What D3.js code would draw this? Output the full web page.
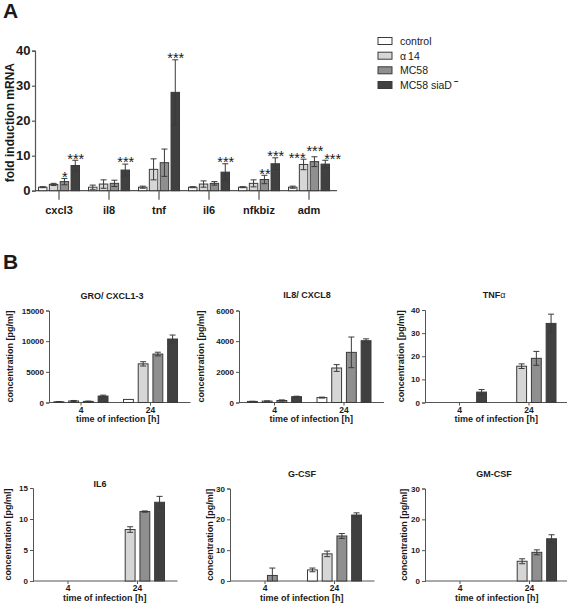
<!DOCTYPE html>
<html><head><meta charset="utf-8">
<script src="https://cdn.jsdelivr.net/npm/d3@7/dist/d3.min.js"></script>
<style>
body{margin:0;background:#fff}
svg{display:block}
text{font-family:"Liberation Sans",Arial,Helvetica,sans-serif;fill:#1a1a1a}
</style>
</head><body>
<svg id="c" width="567" height="604"></svg>
<script>
// ---------- shared ----------
const seriesNames = ["control", "α14", "MC58", "MC58 siaD"];
const seriesColors = ["#ffffff", "#d6d6d6", "#8f8f8f", "#404040"];

// ---------- panel A data ----------
const genes = ["cxcl3", "il8", "tnf", "il6", "nfkbiz", "adm"];
const geneControl = [1.0, 1.0, 1.0, 1.0, 1.0, 1.0];
const geneControlErr = [0.15, 0.6, 0.3, 0.15, 0.15, 0.3];
const geneA14 = [1.8, 1.9, 6.1, 1.9, 2.1, 7.5];
const geneA14Err = [0.3, 1.2, 3.0, 0.9, 1.0, 1.5];
const geneMC58 = [2.6, 2.1, 8.0, 2.1, 3.2, 8.3];
const geneMC58Err = [0.9, 0.9, 3.9, 0.5, 1.2, 1.4];
const geneSiaD = [7.2, 5.9, 28.1, 5.3, 7.7, 7.6];
const geneSiaDErr = [1.5, 1.7, 9.3, 2.4, 1.7, 1.1];
const geneStars = [
  ["", "", "*", "***"], ["", "", "", "***"], ["", "", "", "***"],
  ["", "", "", "***"], ["", "", "**", "***"], ["", "***", "***", "***"]
];
const foldTicks = [0, 10, 20, 30, 40];

// ---------- panel B data ----------
const cytokines = ["GRO/ CXCL1-3", "IL8/ CXCL8", "TNFα", "IL6", "G-CSF", "GM-CSF"];
const times = ["4", "24"];
const cytoTicks = [
  [0, 5000, 10000, 15000], [0, 2000, 4000, 6000], [0, 10, 20, 30, 40],
  [0, 5, 10, 15], [0, 10, 20, 30], [0, 10, 20, 30]
];
const groMean = [[120, 250, 180, 1050], [500, 6300, 7900, 10350]];
const groErr = [[40, 80, 50, 150], [0, 350, 300, 650]];
const il8Mean = [[70, 90, 130, 380], [320, 2250, 3270, 4030]];
const il8Err = [[10, 10, 40, 30], [30, 220, 1000, 120]];
const tnfMean = [[0, 0, 0, 4.5], [0, 15.7, 19.1, 34.2]];
const tnfErr = [[0, 0, 0, 1.1], [0, 1.0, 3.0, 4.0]];
const il6Mean = [[0, 0, 0, 0], [0, 8.3, 11.2, 12.7]];
const il6Err = [[0, 0, 0, 0], [0, 0.45, 0.1, 0.95]];
const gcsfMean = [[0, 0, 1.8, 0], [3.6, 8.8, 14.6, 21.4]];
const gcsfErr = [[0, 0, 2.4, 0], [0.6, 0.9, 0.8, 0.7]];
const gmcsfMean = [[0, 0, 0, 0], [0, 6.4, 9.3, 13.7]];
const gmcsfErr = [[0, 0, 0, 0], [0, 0.8, 0.8, 1.3]];
const cytoMeans = [groMean, il8Mean, tnfMean, il6Mean, gcsfMean, gmcsfMean];
const cytoErrs = [groErr, il8Err, tnfErr, il6Err, gcsfErr, gmcsfErr];

// ---------- drawing ----------
const svg = d3.select("#c");
const AXIS = "#555";
const BAR_STROKE = "#3a3a3a";
const ERR = "#3a3a3a";
const FONT = '"Liberation Sans",Arial,sans-serif';
const STAR_FS = 14.5;

svg.append("text").attr("x", 3).attr("y", 18).attr("font-size", 21).attr("font-weight", "bold").text("A");
svg.append("text").attr("x", 3).attr("y", 269).attr("font-size", 21).attr("font-weight", "bold").text("B");

// ---- Panel A ----
(function () {
  const x0 = 35, x1 = 337, yBase = 190.7, yTopPx = 50.7;
  const y = d3.scaleLinear().domain([0, 40]).range([yBase, yTopPx]);
  const xg = d3.scaleBand().domain(genes).range([34, 334]);
  const xs = d3.scaleBand().domain(d3.range(4)).range([-20.5, 20.5]).paddingInner(0.22);
  const means = [geneControl, geneA14, geneMC58, geneSiaD];
  const errs = [geneControlErr, geneA14Err, geneMC58Err, geneSiaDErr];
  const g = svg.append("g");

  const yAxis = d3.axisLeft(y).tickValues(foldTicks).tickSize(3).tickPadding(1.5);
  const ya = g.append("g").attr("transform", `translate(${x0},0)`).call(yAxis);
  ya.select(".domain").attr("stroke", AXIS).attr("stroke-width", 1.2);
  ya.selectAll(".tick line").attr("stroke", AXIS).attr("stroke-width", 1.2);
  ya.selectAll(".tick text").attr("font-size", 13).attr("font-weight", "bold").attr("fill", "#1a1a1a")
    .style("font-family", FONT);

  const xa = g.append("g").attr("transform", `translate(0,${yBase})`);
  xa.append("line").attr("x1", x0).attr("x2", x1).attr("stroke", AXIS).attr("stroke-width", 1.2);
  const xAxis = d3.axisBottom(xg).tickSize(9).tickPadding(7);
  const xaa = xa.append("g").call(xAxis);
  xaa.select(".domain").remove();
  xaa.selectAll(".tick line").attr("stroke", AXIS).attr("stroke-width", 1.2);
  xaa.selectAll(".tick text").attr("font-size", 11).attr("font-weight", "bold").attr("fill", "#1a1a1a")
    .style("font-family", FONT);

  g.append("text").attr("transform", `translate(14,${(yBase + yTopPx) / 2 + 2}) rotate(-90)`)
    .attr("text-anchor", "middle").attr("font-size", 12).attr("font-weight", "bold").text("fold induction mRNA");

  genes.forEach((gene, gi) => {
    const cx = xg(gene) + xg.bandwidth() / 2;
    let prevStarY = null;
    const labels = [];
    for (let s = 0; s < 4; s++) {
      const v = means[s][gi], e = errs[s][gi];
      const bx = cx + xs(s), bw = xs.bandwidth();
      g.append("rect").attr("x", bx).attr("y", y(v)).attr("width", bw).attr("height", y(0) - y(v))
        .attr("fill", seriesColors[s]).attr("stroke", BAR_STROKE).attr("stroke-width", 1);
      const mx = bx + bw / 2, cw = 3;
      g.append("line").attr("x1", mx).attr("x2", mx).attr("y1", y(v - e)).attr("y2", y(v + e)).attr("stroke", ERR).attr("stroke-width", 1);
      g.append("line").attr("x1", mx - cw).attr("x2", mx + cw).attr("y1", y(v + e)).attr("y2", y(v + e)).attr("stroke", ERR).attr("stroke-width", 1);
      g.append("line").attr("x1", mx - cw).attr("x2", mx + cw).attr("y1", y(v - e)).attr("y2", y(v - e)).attr("stroke", ERR).attr("stroke-width", 1);
      const st = geneStars[gi][s];
      if (st) {
        let cyStar = y(v + e) - 5.3;
        if (prevStarY !== null && Math.abs(cyStar - prevStarY) < 8) cyStar = prevStarY - 7;
        prevStarY = cyStar;
        const t = g.append("text").attr("text-anchor", "middle").attr("font-size", STAR_FS).attr("fill", "#222")
          .attr("y", cyStar + 8.6).text(st);
        labels.push({ node: t, x: mx + 0.5, y: cyStar, w: t.node().getComputedTextLength() });
      } else {
        prevStarY = null;
      }
    }
    // spread labels horizontally where their boxes would collide
    for (let it = 0; it < 12; it++) {
      for (let k = 1; k < labels.length; k++) {
        const a = labels[k - 1], b = labels[k];
        if (Math.abs(a.y - b.y) >= STAR_FS * 1.2) continue;
        const need = (a.w + b.w) / 2 + 0.8;
        const d = need - (b.x - a.x);
        if (d > 0) { a.x -= d / 2; b.x += d / 2; }
      }
    }
    labels.forEach(l => l.node.attr("x", l.x));
  });

  const lg = svg.append("g");
  const rowsY = [41, 55.7, 70.3, 85];
  seriesNames.forEach((n, i) => {
    lg.append("rect").attr("x", 378).attr("y", rowsY[i] - 3.5).attr("width", 14).attr("height", 7)
      .attr("fill", seriesColors[i]).attr("stroke", BAR_STROKE).attr("stroke-width", 1);
    const t = lg.append("text").attr("x", 400).attr("y", rowsY[i] + 4).attr("font-size", 10.5);
    if (i === 1) {
      t.append("tspan").text("α");
      t.append("tspan").attr("dx", 2).text("14");
    } else if (i === 3) {
      t.append("tspan").text(n);
      t.append("tspan").attr("dx", 2).attr("dy", -5).attr("font-size", 8).attr("font-weight", "bold").text("−");
    } else {
      t.text(n);
    }
  });
})();

// ---- Panel B ----
const layoutB = [
  { x0: 49, c4: 81, y0: 402.5, yTop: 310.5, tx: 112, ty: 298.5, lx: 13 },
  { x0: 239, c4: 274.5, y0: 402.5, yTop: 310.5, tx: 307, ty: 298, lx: 204 },
  { x0: 425, c4: 459.5, y0: 402.5, yTop: 310, tx: 494, ty: 298, lx: 404 },
  { x0: 33, c4: 68, y0: 581, yTop: 488, tx: 100, ty: 486.5, lx: 11 },
  { x0: 230, c4: 265, y0: 581, yTop: 488.5, tx: 302, ty: 476.5, lx: 213 },
  { x0: 425, c4: 460, y0: 581, yTop: 488.5, tx: 494, ty: 476.5, lx: 407 }
];

cytokines.forEach((name, ci) => {
  const L = layoutB[ci];
  const ticks = cytoTicks[ci];
  const yMax = ticks[ticks.length - 1];
  const y = d3.scaleLinear().domain([0, yMax]).range([L.y0, L.yTop]);
  const step = 69.5;
  const xt = d3.scaleBand().domain(times).range([L.c4 - step / 2, L.c4 + step * 1.5]);
  const xs = d3.scaleBand().domain(d3.range(4)).range([-27, 27]).paddingInner(0.33);
  const xEnd = L.c4 + step + 40;
  const g = svg.append("g");

  const tt = g.append("text").attr("x", L.tx).attr("y", L.ty).attr("text-anchor", "middle")
    .attr("font-size", 9).attr("font-weight", "bold");
  if (name.endsWith("α")) {
    tt.append("tspan").text(name.slice(0, -1));
    tt.append("tspan").attr("font-weight", "normal").text("α");
  } else tt.text(name);

  const ya = g.append("g").attr("transform", `translate(${L.x0},0)`)
    .call(d3.axisLeft(y).tickValues(ticks).tickSize(3).tickPadding(2).tickFormat(d3.format("d")));
  ya.select(".domain").attr("stroke", AXIS).attr("stroke-width", 1);
  ya.selectAll(".tick line").attr("stroke", AXIS);
  ya.selectAll(".tick text").attr("font-size", 8).attr("font-weight", "bold").attr("fill", "#1a1a1a")
    .style("font-family", FONT);

  g.append("line").attr("x1", L.x0).attr("x2", xEnd).attr("y1", L.y0).attr("y2", L.y0).attr("stroke", AXIS).attr("stroke-width", 1);
  const xa = g.append("g").attr("transform", `translate(0,${L.y0})`)
    .call(d3.axisBottom(xt).tickSize(3).tickPadding(1));
  xa.select(".domain").remove();
  xa.selectAll(".tick line").attr("stroke", AXIS);
  xa.selectAll(".tick text").attr("font-size", 8.5).attr("font-weight", "bold").attr("fill", "#1a1a1a")
    .style("font-family", FONT);

  g.append("text").attr("x", (L.c4 + L.c4 + step) / 2 + 2).attr("y", L.y0 + 19.5).attr("text-anchor", "middle")
    .attr("font-size", 9).attr("font-weight", "bold").text("time of infection [h]");

  g.append("text").attr("transform", `translate(${L.lx},${(L.y0 + L.yTop) / 2}) rotate(-90)`)
    .attr("text-anchor", "middle").attr("font-size", 9).attr("font-weight", "bold").text("concentration [pg/ml]");

  times.forEach((t, ti) => {
    const cx = xt(t) + xt.bandwidth() / 2;
    for (let s = 0; s < 4; s++) {
      const v = cytoMeans[ci][ti][s], e = cytoErrs[ci][ti][s];
      if (v <= 0) continue;
      const bx = cx + xs(s), bw = xs.bandwidth();
      g.append("rect").attr("x", bx).attr("y", y(v)).attr("width", bw).attr("height", y(0) - y(v))
        .attr("fill", seriesColors[s]).attr("stroke", BAR_STROKE).attr("stroke-width", 1);
      if (e > 0) {
        const mx = bx + bw / 2, cw = 3;
        g.append("line").attr("x1", mx).attr("x2", mx).attr("y1", y(Math.max(0, v - e))).attr("y2", y(v + e)).attr("stroke", ERR).attr("stroke-width", 1);
        g.append("line").attr("x1", mx - cw).attr("x2", mx + cw).attr("y1", y(v + e)).attr("y2", y(v + e)).attr("stroke", ERR).attr("stroke-width", 1);
        if (v - e > 0) g.append("line").attr("x1", mx - cw).attr("x2", mx + cw).attr("y1", y(v - e)).attr("y2", y(v - e)).attr("stroke", ERR).attr("stroke-width", 1);
      }
    }
  });
});
</script>
</body></html>
